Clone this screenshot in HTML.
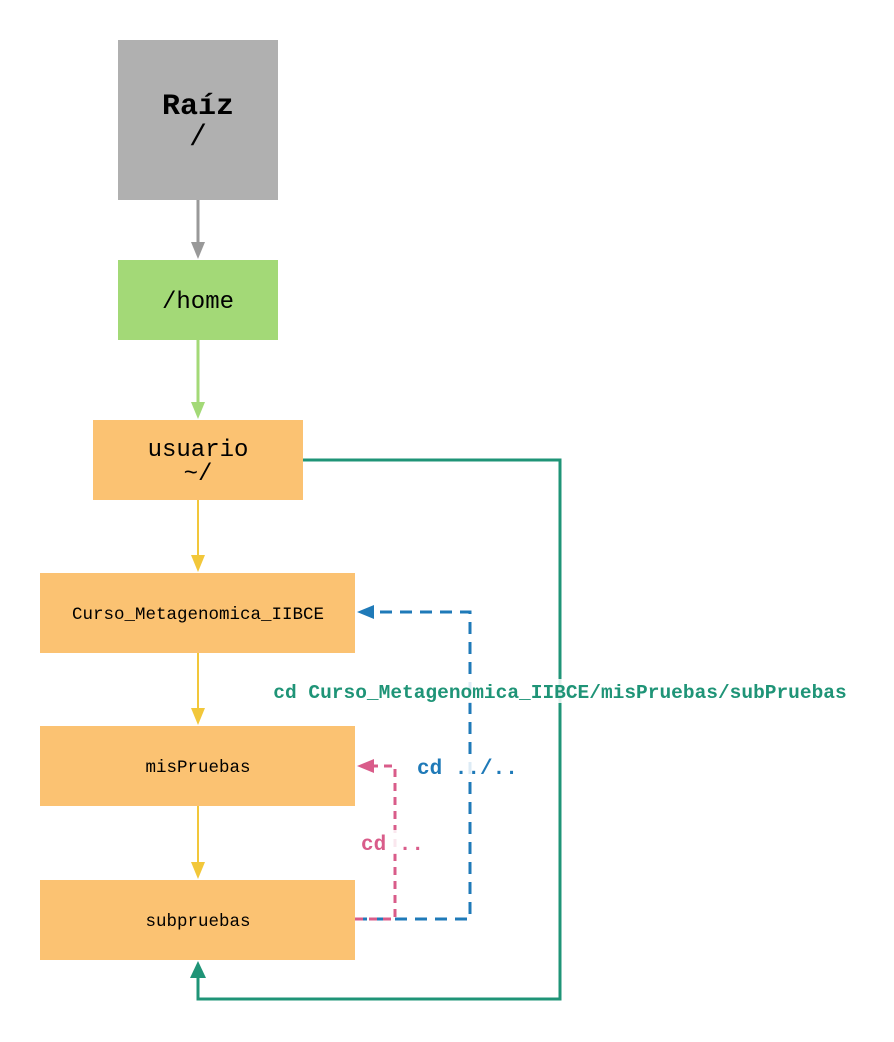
<!DOCTYPE html>
<html><head><meta charset="utf-8"><style>
body{margin:0;background:#fff;}
svg{display:block;font-family:"Liberation Mono",monospace;}
</style></head><body>
<svg width="894" height="1042" viewBox="0 0 894 1042">
<rect x="118" y="40" width="160" height="160" fill="#b0b0b0"/>
<rect x="118" y="260" width="160" height="80" fill="#a3d977"/>
<rect x="93" y="420" width="210" height="80" fill="#fbc272"/>
<rect x="40" y="573" width="315" height="80" fill="#fbc272"/>
<rect x="40" y="726" width="315" height="80" fill="#fbc272"/>
<rect x="40" y="880" width="315" height="80" fill="#fbc272"/>
<text x="198" y="114" font-size="30" font-weight="bold" text-anchor="middle">Raíz</text>
<text x="198" y="145" font-size="30" text-anchor="middle">/</text>
<text x="198" y="308" font-size="24" text-anchor="middle">/home</text>
<text x="198" y="456" font-size="24" text-anchor="middle">usuario</text>
<text x="198" y="480" font-size="24" text-anchor="middle">~/</text>
<text x="198" y="619" font-size="17.5" text-anchor="middle">Curso_Metagenomica_IIBCE</text>
<text x="198" y="772" font-size="17.5" text-anchor="middle">misPruebas</text>
<text x="198" y="926" font-size="17.5" text-anchor="middle">subpruebas</text>
<line x1="198" y1="200" x2="198" y2="244" stroke="#999" stroke-width="3"/>
<path d="M191,242 L205,242 L198,259z" fill="#999"/>
<line x1="198" y1="340" x2="198" y2="404" stroke="#a3d977" stroke-width="3"/>
<path d="M191,402 L205,402 L198,419z" fill="#a3d977"/>
<line x1="198" y1="500" x2="198" y2="557" stroke="#f2c73a" stroke-width="2"/>
<path d="M191,555 L205,555 L198,572z" fill="#f2c73a"/>
<line x1="198" y1="653" x2="198" y2="710" stroke="#f2c73a" stroke-width="2"/>
<path d="M191,708 L205,708 L198,725z" fill="#f2c73a"/>
<line x1="198" y1="806" x2="198" y2="864" stroke="#f2c73a" stroke-width="2"/>
<path d="M191,862 L205,862 L198,879z" fill="#f2c73a"/>
<path d="M303,460 L560,460 L560,999 L198,999 L198,975" fill="none" stroke="#1f9477" stroke-width="3"/>
<path d="M190,978 L206,978 L198,961z" fill="#1f9477"/>
<path d="M355,919 L470,919 L470,612 L372,612" fill="none" stroke="#1f7ab8" stroke-width="3" stroke-dasharray="12,8"/>
<path d="M374,605 L374,619 L357,612z" fill="#1f7ab8"/>
<path d="M355,919 L395,919 L395,766 L372,766" fill="none" stroke="#d95c8a" stroke-width="3" stroke-dasharray="8,6"/>
<path d="M374,759 L374,773 L357,766z" fill="#d95c8a"/>
<rect x="264" y="679" width="592" height="24" fill="#fff" opacity="0.85"/>
<text x="560" y="698" font-size="19.5" font-weight="bold" fill="#1f9477" text-anchor="middle">cd Curso_Metagenomica_IIBCE/misPruebas/subPruebas</text>
<rect x="414" y="754" width="110" height="24" fill="#fff" opacity="0.85"/>
<text x="417" y="774" font-size="21" font-weight="bold" fill="#1f7ab8">cd ../..</text>
<rect x="359" y="830" width="70" height="24" fill="#fff" opacity="0.85"/>
<text x="361" y="850" font-size="21" font-weight="bold" fill="#d95c8a">cd ..</text>
</svg>
</body></html>
